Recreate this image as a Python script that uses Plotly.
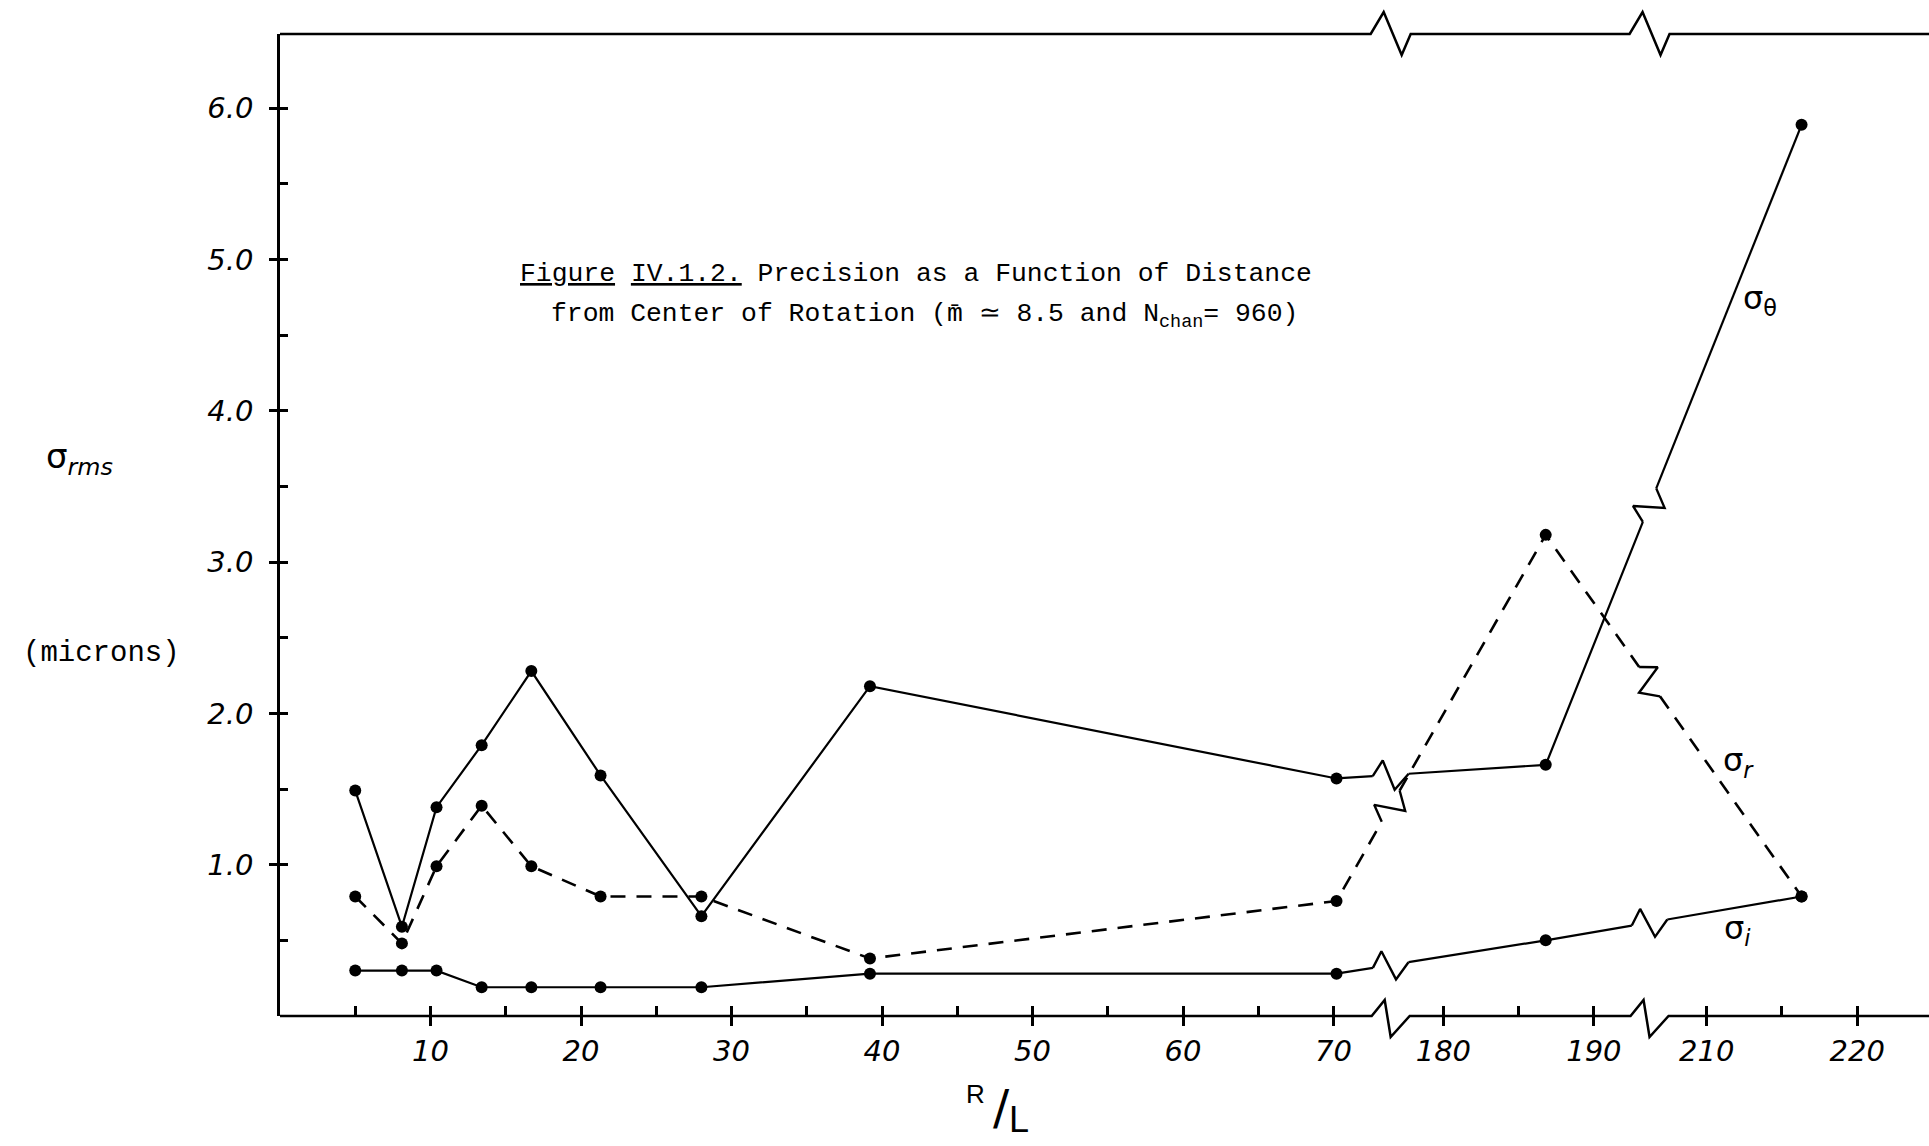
import math
import plotly.graph_objects as go

# ---- measured values -------------------------------------------------------
r_over_l = [5.0, 8.1, 10.4, 13.4, 16.7, 21.3, 28.0, 39.2, 70.2, 186.8, 216.3]
sigma_theta = [1.49, 0.59, 1.38, 1.79, 2.28, 1.59, 0.66, 2.18, 1.57, 1.66, 5.89]
sigma_r = [0.79, 0.48, 0.99, 1.39, 0.99, 0.79, 0.79, 0.38, 0.76, 3.18, 0.79]
sigma_i = [0.30, 0.30, 0.30, 0.19, 0.19, 0.19, 0.19, 0.28, 0.28, 0.50, 0.79]

x_major_ticks = [10, 20, 30, 40, 50, 60, 70, 180, 190, 210, 220]
x_minor_ticks = [5, 10, 15, 20, 25, 30, 35, 40, 45, 50, 55, 60, 65, 70,
                 180, 185, 190, 210, 215, 220]
y_major_ticks = [1, 2, 3, 4, 5, 6]
y_major_labels = ["1.0", "2.0", "3.0", "4.0", "5.0", "6.0"]
y_minor_ticks = [0.5, 1.0, 1.5, 2.0, 2.5, 3.0, 3.5, 4.0, 4.5, 5.0, 5.5, 6.0]

# ---- page geometry ---------------------------------------------------------
FIG_W, FIG_H = 1929, 1146
M_L, M_T, M_B, M_R = 280, 34, 130, 0
PLOT_W = FIG_W - M_L - M_R
PLOT_H = FIG_H - M_T - M_B
X_PX = 15.05          # pixels per axis unit along x
Y_PX = 151.3          # pixels per micron along y
X_MAX = PLOT_W / X_PX
Y_MAX = PLOT_H / Y_PX

# broken R/L axis: (first value, last value, shift applied on the axis)
AXIS_SEGMENTS = [(0, 75, 0.0), (170, 200, 102.7), (200, 240, 115.2)]
BREAKS_U = [73.8, 91.0]   # axis positions of the two breaks


def to_axis(r):
    for lo, hi, shift in AXIS_SEGMENTS:
        if lo <= r <= hi:
            return r - shift
    raise ValueError(r)


# zigzag break symbols, in pixels (along, across)
LINE_ZIG = [(-18, 0), (-7, 15), (3, -15), (18, 0)]
BOTTOM_ZIG = [(-19, 0), (-6, 16), (0, -21), (19, 0)]
TOP_ZIG = [(-20, 0), (-7, 22), (11, -21), (20, 0)]


def zigzag_on_segment(u1, y1, u2, y2, ub):
    sx1, sy1, sx2, sy2 = u1 * X_PX, y1 * Y_PX, u2 * X_PX, y2 * Y_PX
    t = (ub - u1) / (u2 - u1)
    cx, cy = sx1 + t * (sx2 - sx1), sy1 + t * (sy2 - sy1)
    length = math.hypot(sx2 - sx1, sy2 - sy1)
    dx, dy = (sx2 - sx1) / length, (sy2 - sy1) / length
    nx, ny = -dy, dx
    return [((cx + s * dx + q * nx) / X_PX, (cy + s * dy + q * ny) / Y_PX)
            for s, q in LINE_ZIG]


def build_paths(rs, ys):
    us = [to_axis(r) for r in rs]
    mx, my, zx, zy = [], [], [], []
    for i in range(len(us)):
        mx.append(us[i])
        my.append(ys[i])
        if i + 1 < len(us):
            for b in BREAKS_U:
                if us[i] < b < us[i + 1]:
                    pts = zigzag_on_segment(us[i], ys[i], us[i + 1], ys[i + 1], b)
                    mx += [pts[0][0], None, pts[-1][0]]
                    my += [pts[0][1], None, pts[-1][1]]
                    zx += [p[0] for p in pts] + [None]
                    zy += [p[1] for p in pts] + [None]
    return us, mx, my, zx, zy


fig = go.Figure()

series = [
    (sigma_theta, dict(color="black", width=2.2)),
    (sigma_r, dict(color="black", width=2.6, dash="15px,11px")),
    (sigma_i, dict(color="black", width=2.2)),
]
for values, line in series:
    us, mx, my, zx, zy = build_paths(r_over_l, values)
    fig.add_trace(go.Scatter(x=mx, y=my, mode="lines", line=line,
                             hoverinfo="skip"))
    fig.add_trace(go.Scatter(x=zx, y=zy, mode="lines",
                             line=dict(color="black", width=2.4),
                             hoverinfo="skip"))
    fig.add_trace(go.Scatter(x=us, y=values, mode="markers",
                             marker=dict(color="black", size=12,
                                         symbol="circle")))

# empty trace carrying the overlay axes used for the inward ticks
fig.add_trace(go.Scatter(x=[], y=[], xaxis="x2", yaxis="y2"))


def paper_x(px):
    return (px - M_L) / PLOT_W


def paper_y(py):
    return (FIG_H - M_B - py) / PLOT_H


def broken_line_path(y_px, zig):
    """Horizontal frame line with a zigzag at each break (paper coords)."""
    pts = [(0.0, y_px)]
    for b in BREAKS_U:
        cx = M_L + b * X_PX
        for s, q in zig:
            pts.append(((cx + s - M_L) / PLOT_W, y_px - q))
    pts.append((1.0, y_px))
    return "M " + " L ".join(f"{x:.5f},{paper_y(y):.5f}" for x, y in pts)


axis_y_px = FIG_H - M_B
shapes = [
    dict(type="path", xref="paper", yref="paper",
         path=broken_line_path(axis_y_px, BOTTOM_ZIG),
         line=dict(color="black", width=2.5)),
    dict(type="path", xref="paper", yref="paper",
         path=broken_line_path(M_T, TOP_ZIG),
         line=dict(color="black", width=2.5)),
]

TYPE = "Liberation Mono"
HAND = dict(family="DejaVu Sans", size=29, color="black", style="italic")
SYM = dict(family="DejaVu Sans", size=32, color="black")

annotations = [
    dict(text="<u>Figure</u> <u>IV.1.2.</u> Precision as a Function of Distance",
         x=paper_x(518), y=paper_y(274), xanchor="left", yanchor="middle",
         font=dict(family=TYPE, size=26.4, color="black")),
    dict(text="from Center of Rotation (m\u0304 \u2243 8.5 and N<sub>chan</sub>= 960)",
         x=paper_x(549), y=paper_y(316), xanchor="left", yanchor="middle",
         font=dict(family=TYPE, size=26.4, color="black")),
    dict(text="\u03c3<sub><i>rms</i></sub>", x=paper_x(44), y=paper_y(458),
         xanchor="left", yanchor="middle",
         font=dict(family="DejaVu Sans", size=34, color="black")),
    dict(text="(microns)", x=paper_x(101), y=paper_y(653),
         xanchor="center", yanchor="middle",
         font=dict(family=TYPE, size=29, color="black")),
    dict(text="\u03c3<sub>\u03b8</sub>", x=paper_x(1760), y=paper_y(300),
         xanchor="center", yanchor="middle", font=SYM),
    dict(text="\u03c3<sub><i>r</i></sub>", x=paper_x(1738), y=paper_y(762),
         xanchor="center", yanchor="middle", font=SYM),
    dict(text="\u03c3<sub><i>i</i></sub>", x=paper_x(1737), y=paper_y(930),
         xanchor="center", yanchor="middle", font=SYM),
    dict(text="R", x=paper_x(975), y=paper_y(1094), xanchor="center",
         yanchor="middle", font=dict(family="Liberation Sans", size=26,
                                     color="black")),
    dict(text="/", x=paper_x(1001), y=paper_y(1107), xanchor="center",
         yanchor="middle", font=dict(family="DejaVu Sans", size=48,
                                     color="black")),
    dict(text="L", x=paper_x(1019), y=paper_y(1119), xanchor="center",
         yanchor="middle", font=dict(family="Liberation Sans", size=36,
                                     color="black")),
]
for a in annotations:
    a.update(xref="paper", yref="paper", showarrow=False)

fig.update_layout(
    width=FIG_W, height=FIG_H, autosize=False,
    margin=dict(l=M_L, r=M_R, t=M_T, b=M_B, pad=0),
    paper_bgcolor="white", plot_bgcolor="white",
    showlegend=False, hovermode=False,
    shapes=shapes, annotations=annotations,
    xaxis=dict(range=[0, X_MAX], showgrid=False, zeroline=False,
               showline=False, tickmode="array",
               tickvals=[to_axis(v) for v in x_major_ticks],
               ticktext=[str(v) for v in x_major_ticks],
               ticks="outside", ticklen=9, tickwidth=2.5, tickcolor="black",
               ticklabelstandoff=0, tickfont=HAND),
    yaxis=dict(range=[0, Y_MAX], showgrid=False, zeroline=False,
               showline=True, linecolor="black", linewidth=2.5,
               tickmode="array", tickvals=y_major_ticks,
               ticktext=y_major_labels, ticks="outside", ticklen=8,
               tickwidth=2.5, tickcolor="black", ticklabelstandoff=10,
               tickfont=HAND),
    xaxis2=dict(range=[0, X_MAX], overlaying="x", anchor="y2", side="bottom",
                showgrid=False, zeroline=False, showline=False,
                tickmode="array",
                tickvals=[to_axis(v) for v in x_minor_ticks],
                ticks="inside", ticklen=10, tickwidth=2.5, tickcolor="black",
                showticklabels=False),
    yaxis2=dict(range=[0, Y_MAX], overlaying="y", anchor="x2", side="left",
                showgrid=False, zeroline=False, showline=False,
                tickmode="array", tickvals=y_minor_ticks,
                ticks="inside", ticklen=8, tickwidth=2.5, tickcolor="black",
                showticklabels=False),
)

fig.write_html("out.html")
